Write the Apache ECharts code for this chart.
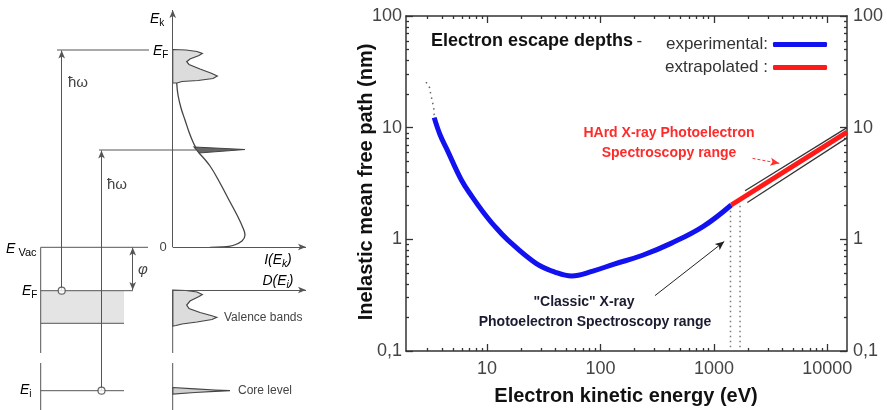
<!DOCTYPE html>
<html><head><meta charset="utf-8">
<script src="https://cdn.jsdelivr.net/npm/echarts@6/dist/echarts.min.js"></script>
<style>html,body{margin:0;padding:0;background:#fff}#c{width:887px;height:410px}</style>
</head><body><div id="c"></div>
<script>
// ================= RIGHT CHART DATA =================
const X_MIN = 1.93, X_MAX = 14900;
const Y_MIN = 0.1, Y_MAX = 100;
const xMajorTicks = [10, 100, 1000, 10000];
const xMinorTicks = [3,4,5,6,7,8,9,20,30,40,50,60,70,80,90,200,300,400,500,600,700,800,900,2000,3000,4000,5000,6000,7000,8000,9000];
const yMajorTicks = [0.1, 1, 10, 100];
const yTickLabels = ['0,1', '1', '10', '100'];
const yMinorTicks = [0.2,0.3,0.4,0.5,0.6,0.7,0.8,0.9,2,3,4,5,6,7,8,9,20,30,40,50,60,70,80,90];

const expEnergy = [3.42, 3.86, 4.46, 5.94, 7.4, 9.19, 11.4, 15.2, 27, 41.7, 55.6, 85.7, 132, 235, 418, 800, 1422];
const expPath   = [12.3, 8.6, 6.3, 3.4, 2.4, 1.77, 1.35, 0.99, 0.61, 0.50, 0.47, 0.52, 0.60, 0.72, 0.92, 1.30, 2.03];
const extEnergy = [1422, 14900];
const extPath   = [2.03, 9.1];
const bandUpperEnergy = [1880, 14900];
const bandUpperPath   = [2.72, 10.0];
const bandLowerEnergy = [1970, 14900];
const bandLowerPath   = [2.14, 8.1];
const lowEnergyEnergy = [2.9, 3.11, 3.18, 3.39, 3.42];
const lowEnergyPath   = [25.6, 22.9, 20.2, 15.1, 12.9];
const xpsLineEnergy = [1400, 1700];
const xpsLineTop = 2.0;
const classicArrow = [[302, 0.313], [1233, 0.956]];
const haxpesArrow = [[2190, 5.31], [3770, 4.79]];

// ================= LEFT SCHEMATIC DATA (diagram units) =================
const efTopLine = [[57,50],[149,50]];
const coreTopLine = [[99,150],[196,150]];
const evacLine = [[40.7,247.3],[148,247.3]];
const efLine = [[40.7,290.7],[133,290.7]];
const vbBottomLine = [[40.7,323.3],[124,323.3]];
const eiLine = [[40.7,390.7],[124,390.7]];
const leftWallUpper = [[40.7,247.3],[40.7,353]];
const leftWallLower = [[40.7,363],[40.7,410]];
const dosWallUpper = [[172.7,290],[172.7,353]];
const dosWallLower = [[172.7,363],[172.7,410]];
const specCurveUpper = [[176.7,83],[178,95],[181,108],[185,120],[189,132],[193,142],[196,148]];
const specCurveLower = [[199,153],[210,166],[220,183],[229,200],[237,215],[243,228],[245,235],[242,241],[233,245.5],[222,247],[210,247.3]];
const specTopShape = [[172.7,49.5],[186,50],[197,51.5],[202.3,53.5],[199,55.5],[190,59],[186.7,61.7],[189,64.5],[200,69],[212,73.5],[217.3,76],[213,78.5],[198,80.5],[182,81.5],[177,83],[172.7,83]];
const specCoreSpike = [[194,147],[245,149.5],[199,153]];
const vbRect = [[40.7,290.7],[124,290.7],[124,323.3],[40.7,323.3]];
const vbDosShape = [[172.7,290],[186,290.5],[197,292],[202.3,294.5],[199,296.5],[190,301],[186.7,305],[189,308.5],[200,312.5],[211,315.5],[216.7,317.3],[212,319.5],[197,322],[182,324],[176,325.5],[172.7,326]];
const coreDosShape = [[172.7,387.5],[195,388.8],[215,390],[230,390.7],[215,391.4],[195,392.5],[172.7,394]];
const electronDots = [[61.7,290.7],[101.5,390.7]];
const diagramArrows = [
  {from:[172.7,247], to:[172.7,10], both:false},
  {from:[172.7,247], to:[306,247], both:false},
  {from:[172.7,290], to:[306,290], both:false},
  {from:[61.7,290.7], to:[61.7,50.5], both:false},
  {from:[101.5,390.7], to:[101.5,150.5], both:false},
  {from:[132.7,247.5], to:[132.7,290], both:true}
];

const FONT = '"Liberation Sans", Arial, sans-serif';
const GRAY = '#555';

const chart = echarts.init(document.getElementById('c'), null, {renderer:'canvas'});

function zip(a, b) { return a.map((v, i) => [v, b[i]]); }

function logX(position, ticks, len, showLine, showLabel) {
  return {
    gridIndex: 0, type: 'log', logBase: 10, min: X_MIN, max: X_MAX, position,
    axisLine: {show: showLine, onZero: false, lineStyle: {color: '#333', width: 1.5}},
    axisTick: {show: true, inside: true, length: len, customValues: ticks, lineStyle: {color: '#333', width: 1.3}},
    axisLabel: showLabel ? {show: true, customValues: ticks, formatter: v => String(Math.round(v)), fontSize: 18, color: '#444', fontFamily: FONT, margin: 9} : {show: false},
    splitLine: {show: false}, minorTick: {show: false}
  };
}
function logY(position, ticks, len, showLine, showLabel) {
  return {
    gridIndex: 0, type: 'log', logBase: 10, min: Y_MIN, max: Y_MAX, position,
    axisLine: {show: showLine, onZero: false, lineStyle: {color: '#333', width: 1.5}},
    axisTick: {show: true, inside: true, length: len, customValues: ticks, lineStyle: {color: '#333', width: 1.3}},
    axisLabel: showLabel ? {show: true, customValues: ticks, fontSize: 18, color: '#444', fontFamily: FONT, margin: position === 'left' ? 4 : 6,
      formatter: v => { const i = yMajorTicks.findIndex(t => Math.abs(t - v) / t < 1e-6); return i >= 0 ? yTickLabels[i] : ''; }} : {show: false},
    splitLine: {show: false}, minorTick: {show: false}
  };
}

const series = [];
// right chart
series.push({name: 'experimental:', type: 'line', xAxisIndex: 0, yAxisIndex: 0, data: zip(expEnergy, expPath), smooth: 0.4, symbol: 'none', lineStyle: {color: '#1212f0', width: 5}, itemStyle: {color: '#1212f0'}, z: 5});
series.push({name: 'extrapolated :', type: 'line', xAxisIndex: 0, yAxisIndex: 0, data: zip(extEnergy, extPath), symbol: 'none', lineStyle: {color: '#ff1a1a', width: 5}, itemStyle: {color: '#ff1a1a'}, z: 6});
series.push({type: 'line', xAxisIndex: 0, yAxisIndex: 0, data: zip(bandUpperEnergy, bandUpperPath), symbol: 'none', lineStyle: {color: '#333', width: 1.3}, z: 4});
series.push({type: 'line', xAxisIndex: 0, yAxisIndex: 0, data: zip(bandLowerEnergy, bandLowerPath), symbol: 'none', lineStyle: {color: '#333', width: 1.3}, z: 4});
series.push({type: 'line', xAxisIndex: 0, yAxisIndex: 0, data: zip(lowEnergyEnergy, lowEnergyPath), symbol: 'none', lineStyle: {color: '#666', width: 1.5, type: [1.5, 4]}, z: 4});
xpsLineEnergy.forEach(e => {
  series.push({type: 'line', xAxisIndex: 0, yAxisIndex: 0, data: [[e, xpsLineTop], [e, Y_MIN]], symbol: 'none', lineStyle: {color: '#777', width: 1.5, type: [1.5, 3.5]}, z: 3});
});
series.push({type: 'line', xAxisIndex: 0, yAxisIndex: 0, data: [classicArrow[0]], symbol: 'none', z: 7,
  markLine: {silent: true, animation: false, symbol: ['none', 'arrow'], symbolSize: [6, 9], label: {show: false}, emphasis: {disabled: true},
    data: [
      [{coord: classicArrow[0], lineStyle: {color: '#222', width: 1, type: 'solid'}}, {coord: classicArrow[1]}],
      [{coord: haxpesArrow[0], lineStyle: {color: '#ff3030', width: 1, type: [3, 2]}}, {coord: haxpesArrow[1]}]
    ]}});

// left schematic
const polylines = [efTopLine, coreTopLine, evacLine, efLine, vbBottomLine, eiLine, leftWallUpper, leftWallLower, dosWallUpper, dosWallLower];
polylines.forEach(p => series.push({type: 'line', xAxisIndex: 4, yAxisIndex: 4, data: p, symbol: 'none', lineStyle: {color: GRAY, width: 1}, z: 3, silent: true}));
[specCurveUpper, specCurveLower].forEach(p => series.push({type: 'line', xAxisIndex: 4, yAxisIndex: 4, data: p, smooth: 0.4, symbol: 'none', lineStyle: {color: '#444', width: 1.3}, z: 3, silent: true}));
function polygonSeries(shape, fill, stroke, z) {
  return {type: 'custom', xAxisIndex: 4, yAxisIndex: 4, data: [[0, 0]], z, silent: true,
    renderItem: (params, api) => ({type: 'polygon', shape: {points: shape.map(p => api.coord(p)), smooth: 0}, style: {fill, stroke, lineWidth: stroke ? 1.2 : 0}})};
}
series.push(polygonSeries(vbRect, '#e4e4e4', null, 1));
series.push(polygonSeries(specTopShape, '#dcdcdc', '#444', 2));
series.push(polygonSeries(specCoreSpike, '#666', '#444', 2));
series.push(polygonSeries(vbDosShape, '#dcdcdc', '#444', 2));
series.push(polygonSeries(coreDosShape, '#cfcfcf', '#444', 2));
series.push({type: 'line', xAxisIndex: 4, yAxisIndex: 4, data: [diagramArrows[0].from], symbol: 'none', z: 3,
  markLine: {silent: true, animation: false, symbolSize: [5, 8], label: {show: false}, emphasis: {disabled: true},
    lineStyle: {color: GRAY, width: 1, type: 'solid'},
    data: diagramArrows.map(a => [{coord: a.from, symbol: a.both ? 'arrow' : 'none'}, {coord: a.to, symbol: 'arrow'}])}});
series.push({type: 'scatter', xAxisIndex: 4, yAxisIndex: 4, data: electronDots, symbol: 'circle', symbolSize: 7, itemStyle: {color: '#fff', borderColor: '#444', borderWidth: 1.2}, z: 6, silent: true});

const subRich = {
  i: {fontSize: 14, fontStyle: 'italic', fontFamily: FONT, color: '#444', lineHeight: 18},
  s: {fontSize: 10, fontFamily: FONT, color: '#444', verticalAlign: 'bottom'},
  si: {fontSize: 10, fontStyle: 'italic', fontFamily: FONT, color: '#444', verticalAlign: 'bottom'}
};
function gtext(x, y, text, opts) {
  return Object.assign({type: 'text', x, y, silent: true, z: 100,
    style: Object.assign({text, font: '13px ' + FONT, fill: '#444', align: 'left', verticalAlign: 'middle'}, opts || {})});
}

const graphic = [
  // right chart titles and annotations
  {type: 'text', x: 366, y: 182, rotation: Math.PI / 2, silent: true,
    style: {text: 'Inelastic mean free path (nm)', font: 'bold 20px ' + FONT, fill: '#111', align: 'center', verticalAlign: 'middle'}},
  gtext(626, 396, 'Electron kinetic energy (eV)', {font: 'bold 20px ' + FONT, fill: '#111', align: 'center'}),
  {type: 'text', x: 431, y: 41, silent: true,
    style: {text: '{b|Electron escape depths} {n|-}', align: 'left', verticalAlign: 'middle',
      rich: {b: {font: 'bold 18px ' + FONT, fill: '#111'}, n: {font: '17px ' + FONT, fill: '#333'}}}},
  gtext(669, 143, 'HArd X-ray Photoelectron\nSpectroscopy range', {font: 'bold 14px ' + FONT, fill: '#ff2a2a', align: 'center', lineHeight: 20}),
  gtext(584, 302, '"Classic" X-ray', {font: 'bold 14px ' + FONT, fill: '#1a1a30', align: 'center'}),
  gtext(595, 322, 'Photoelectron Spectroscopy range', {font: 'bold 14px ' + FONT, fill: '#1a1a30', align: 'center'}),
  // left schematic labels
  {type: 'text', x: 150, y: 19, silent: true, style: {text: '{i|E}{s|k}', rich: subRich, verticalAlign: 'middle'}},
  {type: 'text', x: 153, y: 51, silent: true, style: {text: '{i|E}{s|F}', rich: subRich, verticalAlign: 'middle'}},
  gtext(78, 83, 'ħω', {font: '15px ' + FONT, align: 'center'}),
  gtext(117, 185, 'ħω', {font: '15px ' + FONT, align: 'center'}),
  gtext(163, 247, '0', {font: '13px ' + FONT, align: 'center'}),
  {type: 'text', x: 278, y: 260, silent: true, style: {text: '{i|I(E}{si|k}{i|)}', rich: subRich, align: 'center', verticalAlign: 'middle'}},
  {type: 'text', x: 6, y: 249, silent: true, style: {text: '{i|E}{s| Vac}', rich: Object.assign({}, subRich, {s: {fontSize: 11, fontFamily: FONT, color: '#444', verticalAlign: 'bottom'}}), verticalAlign: 'middle'}},
  gtext(143, 270, 'φ', {font: 'italic 15px ' + FONT, align: 'center'}),
  {type: 'text', x: 22, y: 291, silent: true, style: {text: '{i|E}{s|F}', rich: subRich, verticalAlign: 'middle'}},
  {type: 'text', x: 278, y: 281, silent: true, style: {text: '{i|D(E}{si|i}{i|)}', rich: subRich, align: 'center', verticalAlign: 'middle'}},
  gtext(224, 318, 'Valence bands', {font: '12px ' + FONT}),
  {type: 'text', x: 20, y: 390, silent: true, style: {text: '{i|E}{s|i}', rich: subRich, verticalAlign: 'middle'}},
  gtext(238, 391, 'Core level', {font: '12px ' + FONT})
];

const option = {
  animation: false,
  backgroundColor: '#fff',
  grid: [
    {left: 406, right: 40, top: 16, bottom: 59},
    {left: 0, top: 0, width: 310, height: 410}
  ],
  xAxis: [
    logX('bottom', xMajorTicks, 7, true, true),
    logX('top', xMajorTicks, 7, true, false),
    logX('bottom', xMinorTicks, 3, false, false),
    logX('top', xMinorTicks, 3, false, false),
    {gridIndex: 1, type: 'value', min: 0, max: 310, show: false}
  ],
  yAxis: [
    logY('left', yMajorTicks, 7, true, true),
    logY('right', yMajorTicks, 7, true, true),
    logY('left', yMinorTicks, 3, false, false),
    logY('right', yMinorTicks, 3, false, false),
    {gridIndex: 1, type: 'value', min: 0, max: 410, inverse: true, show: false}
  ],
  legend: {
    show: true, orient: 'vertical', right: 55, top: 31, align: 'right',
    itemWidth: 54, itemHeight: 5, itemGap: 6, icon: 'roundRect',
    data: ['experimental:', 'extrapolated :'],
    selectedMode: false,
    textStyle: {fontSize: 17, color: '#333', fontFamily: FONT, width: 125, lineHeight: 16}
  },
  graphic,
  series
};
chart.setOption(option);
</script>
</body></html>
